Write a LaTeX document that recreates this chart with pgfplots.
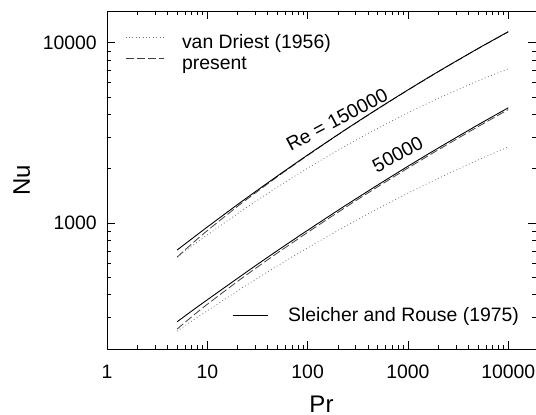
\documentclass[border=0pt]{standalone}
\usepackage{fontspec}
\setmainfont{Liberation Sans}
\usepackage{pgfplots}
\pgfplotsset{compat=1.18}
\usepackage{pgfplotstable}

% Nu against Pr; A: Re = 150000, B: Re = 50000
\pgfplotstableread{
Pr    solidA dashA dotA solidB dashB dotB
5     708    647   646  283    258   251
7     817    766   743  325    302   286
10    950    907   859  375    354   326
20    1265   1236  1126 493    474   420
30    1489   1466  1312 578    558   485
50    1824   1806  1581 703    682   578
70    2078   2064  1781 798    775   648
100   2383   2371  2013 911    887   728
200   3090   3083  2528 1174   1145  908
300   3582   3574  2871 1357   1326  1029
500   4301   4291  3351 1625   1588  1199
1000  5473   5461  4083 2064   2017  1463
2000  6912   6896  4909 2603   2544  1767
5000  9292   9271  6141 3505   3425  2237
10000 11514  11487 7163 4355   4256  2643
}\nudata

\newcommand{\txt}{\fontsize{19.4}{23}\selectfont}

\begin{document}
\begin{tikzpicture}
\begin{axis}[
  xmode=log, ymode=log,
  scale only axis, width=429pt, height=338pt,
  xmin=1, xmax=18900, ymin=200, ymax=15000,
  xtick={1,10,100,1000,10000}, xticklabels={1,10,100,1000,10000},
  ytick={1000,10000}, yticklabels={1000,10000},
  minor xtick={2,3,4,5,6,7,8,9,20,30,40,50,60,70,80,90,200,300,400,500,600,700,800,900,2000,3000,4000,5000,6000,7000,8000,9000},
  minor ytick={300,400,500,600,700,800,900,2000,3000,4000,5000,6000,7000,8000,9000},
  major tick length=8pt, minor tick length=4pt,
  tick style={black, line width=0.6pt},
  axis line style={line width=0.8pt},
  tick label style={font=\txt, inner sep=0pt},
  xticklabel style={yshift=-16pt},
  yticklabel style={xshift=-10pt},
  xlabel={Pr}, ylabel={Nu},
  label style={font=\fontsize{24}{28}\selectfont, inner sep=0pt},
  xlabel style={at={(axis description cs:0.5,-0.139)}, anchor=north},
  ylabel style={at={(axis description cs:-0.219,0.5)}, anchor=north},
  legend style={draw=none, fill=none, at={(axis description cs:0.042,0.932)}, anchor=north west,
    inner sep=0pt, font=\txt, row sep=3pt, column sep=18pt,
    nodes={inner sep=0pt, text height=14pt, text depth=4pt}},
  legend cell align=left,
  legend image code/.code={\draw[#1] (0pt,5.5pt) -- (38pt,5.5pt);},
  every axis plot/.append style={smooth},
]
\addplot[black!55, line width=0.8pt, dash pattern=on 0.8pt off 2.6pt] table[x=Pr, y=dotA] {\nudata};
\addlegendentry{van Driest (1956)}
\addplot[black!75, line width=0.8pt, dash pattern=on 8pt off 3pt] table[x=Pr, y=dashA] {\nudata};
\addlegendentry{present}
\addplot[black!55, line width=0.8pt, dash pattern=on 0.8pt off 2.6pt, forget plot] table[x=Pr, y=dotB] {\nudata};
\addplot[black!75, line width=0.8pt, dash pattern=on 8pt off 3pt, forget plot] table[x=Pr, y=dashB] {\nudata};
\addplot[black, line width=0.9pt, forget plot] table[x=Pr, y=solidA] {\nudata};
\addplot[black, line width=0.9pt, forget plot] table[x=Pr, y=solidB] {\nudata};

\node[font=\txt, rotate=28] at (axis cs:196,3735) {Re = 150000};
\node[font=\txt, rotate=28] at (axis cs:790,2400) {50000};

% legend key for the solid curves
\draw[black, line width=0.9pt] (axis description cs:0.2937,0.0991) -- (axis description cs:0.3753,0.0991);
\node[font=\txt, inner sep=0pt, anchor=base west] at (axis description cs:0.4219,0.0828) {Sleicher and Rouse (1975)};
\end{axis}
\pgfresetboundingbox
\path (-107pt,-66pt) rectangle (429pt,349pt);
\end{tikzpicture}
\end{document}
